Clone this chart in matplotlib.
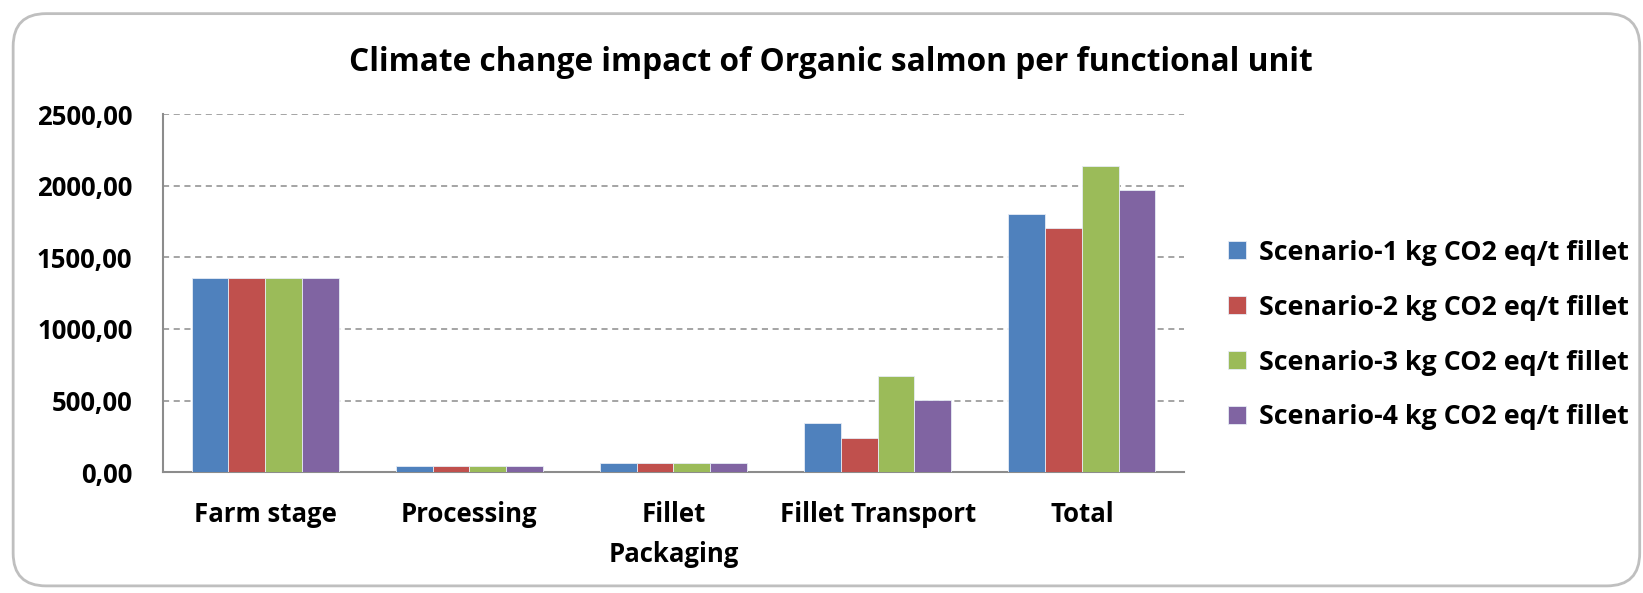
import matplotlib
matplotlib.use("Agg")
import matplotlib.pyplot as plt
import numpy as np
from matplotlib.patches import FancyBboxPatch
from matplotlib.ticker import FuncFormatter

categories = ["Farm stage", "Processing", "Fillet\nPackaging", "Fillet Transport", "Total"]
series_names = ["Scenario-1 kg CO2 eq/t fillet", "Scenario-2 kg CO2 eq/t fillet",
                "Scenario-3 kg CO2 eq/t fillet", "Scenario-4 kg CO2 eq/t fillet"]
scenario1 = [1360, 45, 60, 340, 1805]
scenario2 = [1360, 45, 60, 241, 1706]
scenario3 = [1360, 45, 60, 672, 2137]
scenario4 = [1360, 45, 60, 506, 1971]
colors = ["#4F81BD", "#C0504D", "#9BBB59", "#8064A2"]

plt.rcParams['font.family'] = ['Open Sans', 'DejaVu Sans']
plt.rcParams['font.weight'] = 'bold'

fig = plt.figure(figsize=(16.43, 5.93), dpi=100)
fig.patch.set_facecolor("white")

# chart frame
frame = FancyBboxPatch((0.008, 0.012), 0.99, 0.965, boxstyle="round,pad=0,rounding_size=0.02",
                       transform=fig.transFigure, facecolor="white", edgecolor="#BFBFBF",
                       linewidth=2, mutation_aspect=1643/593, zorder=-5)
fig.patches.append(frame)

ax = fig.add_axes([0.0992, 0.204, 0.6214, 0.603])
ax.set_zorder(2)
ax.set_facecolor("none")
x = np.arange(len(categories))
w = 0.18
data = [scenario1, scenario2, scenario3, scenario4]
for i, (vals, c, name) in enumerate(zip(data, colors, series_names)):
    ax.bar(x + (i - 1.5) * w, vals, width=w, color=c, edgecolor="#E6ECF5",
           linewidth=0.6, label=name, zorder=3)

ax.set_xlim(-0.5, len(categories) - 0.5)
ax.set_ylim(0, 2500)
ax.set_yticks(np.arange(0, 2501, 500))
ax.yaxis.set_major_formatter(FuncFormatter(lambda v, p: f"{v:.2f}".replace(".", ",")))
ax.yaxis.grid(True, linestyle=(0, (4, 3)), color="#8C8C8C", linewidth=1.1, zorder=0)
ax.set_axisbelow(True)
for s in ["top", "right"]:
    ax.spines[s].set_visible(False)
for s in ["left", "bottom"]:
    ax.spines[s].set_color("#8C8C8C")
    ax.spines[s].set_linewidth(1.5)
ax.tick_params(axis="both", length=0, labelsize=18.5)
ax.tick_params(axis="y", pad=22)
ax.tick_params(axis="x", pad=21)
ax.set_xticks(x)
ax.set_xticklabels(categories, fontweight="bold", linespacing=1.6)
for lab in ax.get_yticklabels():
    lab.set_fontweight("bold")

fig.text(0.506, 0.894, "Climate change impact of Organic salmon per functional unit",
         ha="center", va="center", fontsize=22.8, fontweight="bold")

leg = fig.legend(loc="center left", bbox_to_anchor=(0.733, 0.435), frameon=False,
                 handlelength=0.65, handleheight=0.65, handletextpad=0.5,
                 labelspacing=1.08, prop={"weight": "bold", "size": 19.3})

fig.savefig("out.png", dpi=100, facecolor="white")
